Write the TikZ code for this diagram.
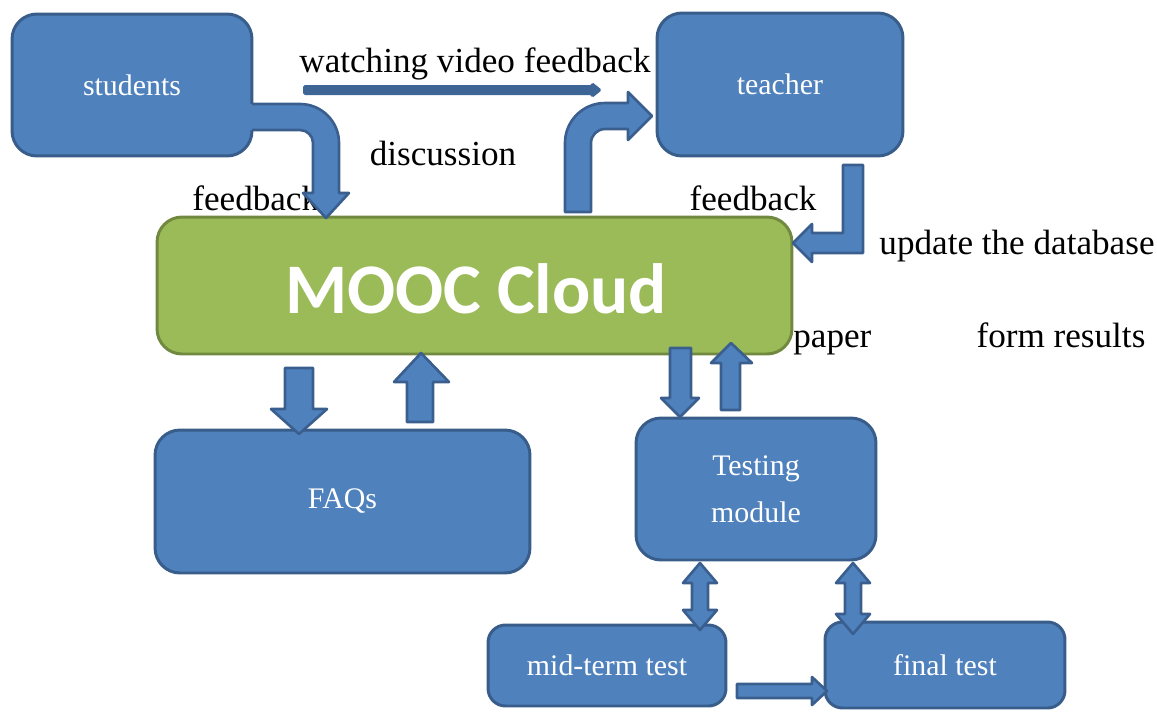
\documentclass[tikz,border=0pt]{standalone}
\usepackage{fontspec}
\setmainfont{Liberation Serif}
\newfontfamily\cloudfont{Carlito}
\definecolor{boxfill}{HTML}{4F81BD}
\definecolor{boxline}{HTML}{385D8A}
\definecolor{greenfill}{HTML}{9BBB59}
\definecolor{greenline}{HTML}{71893F}
\definecolor{arrowfill}{HTML}{4F81BD}
\definecolor{arrowline}{HTML}{3A5F8F}
\definecolor{thinarrow}{HTML}{3D6596}
\begin{document}
\begin{tikzpicture}[x=0.02cm,y=-0.02cm,
  box/.style={draw=boxline, fill=boxfill, line width=1.7pt, rounded corners=0.5cm,
    inner sep=0pt, text=white, font=\fontsize{17}{26.6}\selectfont, align=center},
  cloud/.style={draw=greenline, fill=greenfill, line width=1.7pt, rounded corners=0.5cm,
    inner sep=0pt},
  lbl/.style={inner sep=0pt, text=black, font=\fontsize{20}{24}\selectfont},
  blockarrow/.style={fill=arrowfill, draw=arrowline, line width=1.5pt, line join=round}]
\useasboundingbox (0,0) rectangle (1157,711);

% labels
\node[lbl] (lwatch) at (475,64) {watching video feedback};
\node[lbl] (ldisc) at (443,153) {discussion};
\node[lbl, anchor=west] (lfb1) at (192,198) {feedback};
\node[lbl] (lfb2) at (753,198) {feedback};
\node[lbl] (lupd) at (1017,246) {update the database};
\node[lbl, anchor=base west] (lpaper) at (793,347) {paper};
\node[lbl, anchor=base] (lform) at (1061,347) {form results};

% boxes
\node[box, minimum width=4.8cm, minimum height=2.84cm] (students) at (132,85) {students};
\node[box, minimum width=4.92cm, minimum height=2.86cm] (teacher) at (780,84.5) {teacher};
\node[cloud, minimum width=12.7cm, minimum height=2.74cm] (mooc) at (474.5,285.5) {};
\node[text=white, inner sep=0pt, font=\cloudfont\bfseries\fontsize{40.5}{42}\selectfont] (mooctext) at (476,289) {MOOC Cloud};
\node[box, minimum width=7.5cm, minimum height=2.86cm] (faqs) at (342.5,501.5) {FAQs};
\node[box, minimum width=4.8cm, minimum height=2.84cm] (testing) at (756,489) {Testing\\module};
\node[box, rounded corners=0.35cm, minimum width=4.76cm, minimum height=1.62cm] (midterm) at (607,665.5) {mid-term test};
\node[box, rounded corners=0.35cm, minimum width=4.8cm, minimum height=1.72cm] (final) at (945,665) {final test};

% thin arrow
\fill[thinarrow, rounded corners=1pt] (303,85) -- (592,85) -- (592,82) -- (602,90) -- (592,98) -- (592,95) -- (303,95) -- cycle;

% students -> MOOC bent arrow (emerging from the box, no border on the left)
\fill[arrowfill] (246,104) -- (300,104) arc[start angle=-90, end angle=0, radius=39]
  -- (339,193) -- (349,193) -- (326,218) -- (303,193) -- (313,193) -- (313,143)
  arc[start angle=0, end angle=-90, radius=13] -- (246,130) -- cycle;
\draw[arrowline, line width=1.5pt, line join=round] (252,104) -- (300,104) arc[start angle=-90, end angle=0, radius=39]
  -- (339,193) -- (349,193) -- (326,218) -- (303,193) -- (313,193) -- (313,143)
  arc[start angle=0, end angle=-90, radius=13] -- (252,130);

% MOOC -> teacher bent arrow
\path[blockarrow] (565,212) -- (565,143) arc[start angle=180, end angle=270, radius=40]
  -- (628,103) -- (628,92) -- (652,116) -- (628,140) -- (628,129) -- (605,129)
  arc[start angle=270, end angle=180, radius=14] -- (591,212) -- cycle;

% teacher -> MOOC
\path[blockarrow] (843,165) -- (863,165) -- (863,253) -- (812,253) -- (812,262)
  -- (793,243) -- (812,224) -- (812,233) -- (843,233) -- cycle;

% MOOC <-> FAQs
\path[blockarrow] (285,368) -- (313,368) -- (313,409) -- (327,409) -- (299,434) -- (271,409) -- (285,409) -- cycle;
\path[blockarrow] (407,422) -- (433,422) -- (433,382) -- (449,382) -- (421,353) -- (394,382) -- (407,382) -- cycle;

% MOOC <-> Testing
\path[blockarrow] (670,348) -- (691,348) -- (691,398) -- (699,398) -- (680,417) -- (661,398) -- (670,398) -- cycle;
\path[blockarrow] (721,410) -- (740,410) -- (740,363) -- (752,363) -- (731,343) -- (711,363) -- (721,363) -- cycle;

% Testing <-> mid-term / final
\path[blockarrow] (692,583) -- (683,583) -- (700,563) -- (717,583) -- (708,583) -- (708,610)
  -- (717,610) -- (700,630) -- (683,610) -- (692,610) -- cycle;
\path[blockarrow] (845,583) -- (836,583) -- (853,563) -- (870,583) -- (861,583) -- (861,614)
  -- (870,614) -- (853,634) -- (836,614) -- (845,614) -- cycle;

% mid-term -> final
\path[blockarrow] (737,684) -- (812,684) -- (812,677) -- (827,691) -- (812,705) -- (812,698) -- (737,698) -- cycle;
\end{tikzpicture}
\end{document}
